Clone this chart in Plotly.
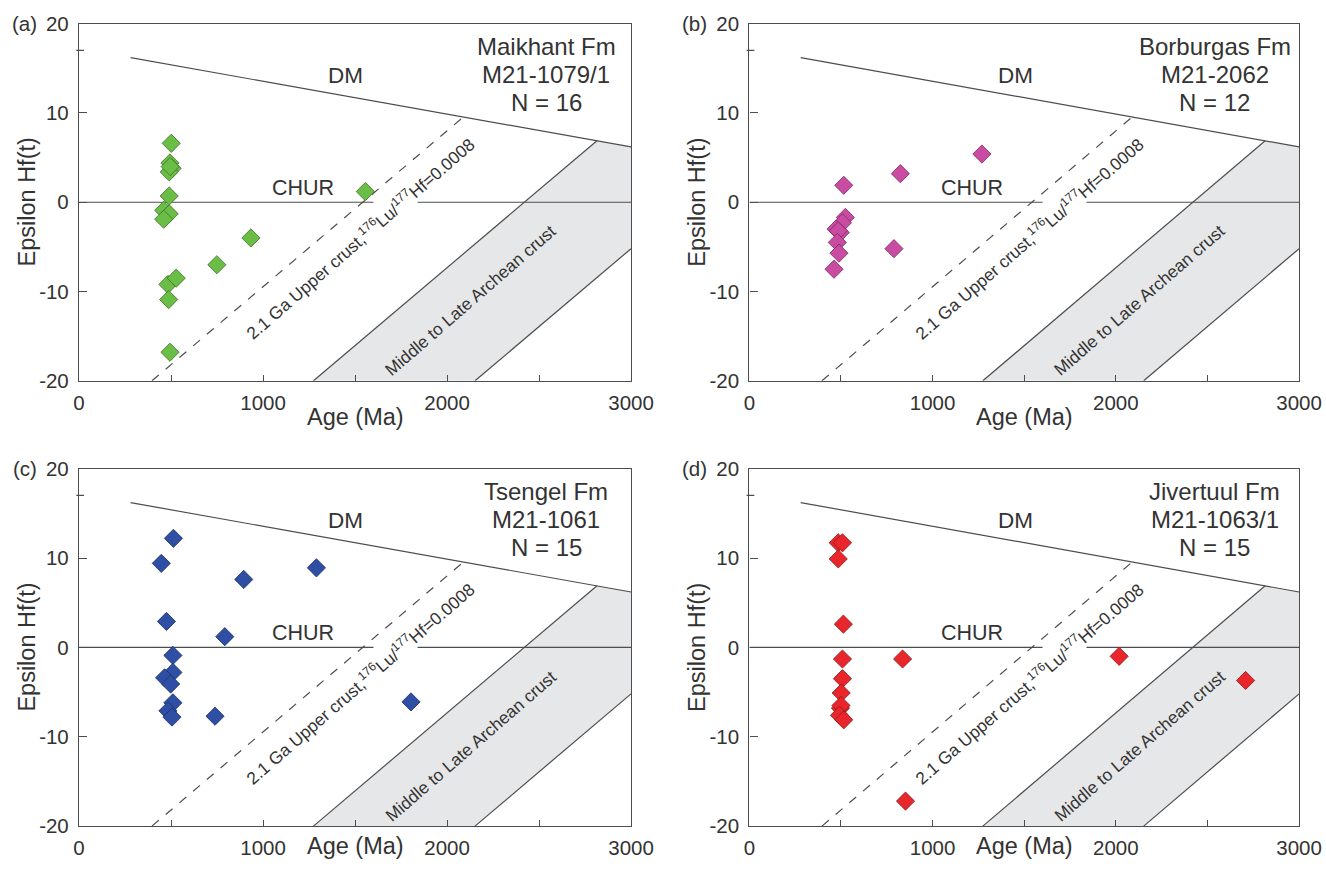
import plotly.graph_objects as go

# ---------------- data ----------------
AGE_RANGE = [0, 3000]
EPS_RANGE = [-20, 20]
X_TICKS = [0, 1000, 2000, 3000]
X_TICK_TEXT = ["0", "1000", "2000", "3000"]
Y_TICKS = [-20, -10, 0, 10, 20]
Y_TICK_TEXT = ["-20", "-10", "0", "10", "20"]

PANEL_LETTERS = ["(a)", "(b)", "(c)", "(d)"]
FORMATIONS = ["Maikhant Fm", "Borburgas Fm", "Tsengel Fm", "Jivertuul Fm"]
SAMPLES = ["M21-1079/1", "M21-2062", "M21-1061", "M21-1063/1"]
COUNTS = [16, 12, 15, 15]
COLORS = ["#6abd45", "#c94ca2", "#2f4fa5", "#e8262b"]
EDGE_COLORS = ["#3f6e2a", "#7a2c60", "#1c2f66", "#8a1a1c"]

A_AGE = [501, 494, 506, 490, 495, 490, 460, 490, 460, 483, 528, 487, 494, 749, 934, 1556]
A_EPS = [6.6, 4.4, 3.8, 3.4, 4.0, 0.7, -0.9, -1.3, -1.9, -9.2, -8.5, -10.9, -16.8, -7.0, -4.0, 1.2]

B_AGE = [1269, 824, 515, 524, 508, 473, 496, 485, 480, 489, 462, 789]
B_EPS = [5.4, 3.2, 1.9, -1.7, -2.3, -3.0, -3.4, -3.2, -4.5, -5.7, -7.5, -5.2]

C_AGE = [513, 447, 895, 1290, 475, 792, 510, 510, 465, 498, 510, 483, 505, 739, 1804]
C_EPS = [12.2, 9.4, 7.6, 8.9, 2.9, 1.2, -0.9, -2.8, -3.4, -4.1, -6.2, -7.1, -7.8, -7.7, -6.1]

D_AGE = [485, 508, 485, 513, 508, 836, 2018, 508, 501, 497, 500, 492, 515, 2708, 852]
D_EPS = [11.7, 11.7, 9.9, 2.6, -1.3, -1.3, -1.0, -3.5, -5.1, -6.8, -6.5, -7.6, -8.1, -3.7, -17.2]

PANEL_AGES = [A_AGE, B_AGE, C_AGE, D_AGE]
PANEL_EPS = [A_EPS, B_EPS, C_EPS, D_EPS]

# reference curves
DM_AGE = [280, 3000]
DM_EPS = [16.2, 6.2]
DM_TICK_EPS = 17.0
CHUR_AGE = [0, 1600, None, 1840, 3000]
CHUR_EPS = [0, 0, None, 0, 0]
UC_AGE = [396, 2089]
UC_EPS = [-20, 9.55]
ARCH_FILL_AGE = [1274, 2815, 3000, 3000, 2152]
ARCH_FILL_EPS = [-20, 6.89, 6.2, -5.2, -20]
ARCH_LEFT_AGE = [1274, 2815]
ARCH_LEFT_EPS = [-20, 6.89]
ARCH_RIGHT_AGE = [2152, 3000]
ARCH_RIGHT_EPS = [-20, -5.2]

# label anchor positions (data units)
DM_LABEL = (1450, 14.2)
CHUR_LABEL = (1215, 1.6)
UC_LABEL = (1525, -4.0)
ARCH_LABEL = (2130, -11.0)
SAMPLE_X = 2540
SAMPLE_Y = [17.4, 14.3, 11.2]

# ---------------- layout geometry (figure pixels) ----------------
W, H = 1326, 872
X_DOMS = [(74.7, 639), (760, 1322), (74.7, 639), (760, 1322)]
Y_DOMS = [(12.0, 378.8), (12.0, 378.8), (469.0, 836.2), (469.0, 836.2)]

FONT = "Liberation Sans, Arial, sans-serif"
TXT = "#333333"
LINE = "#4d4d4d"

fig = go.Figure()
annotations = []
shapes = []

for i in range(4):
    sfx = "" if i == 0 else str(i + 1)
    xr, yr = "x" + sfx, "y" + sfx
    x0p, x1p = X_DOMS[i]
    ytp, ybp = Y_DOMS[i]
    xdom = [x0p / W, x1p / W]
    ydom = [1 - ybp / H, 1 - ytp / H]

    fig.add_trace(go.Scatter(x=ARCH_FILL_AGE, y=ARCH_FILL_EPS, fill="toself",
                             fillcolor="#e6e7e8", line=dict(width=0), mode="lines",
                             xaxis=xr, yaxis=yr, showlegend=False, hoverinfo="skip"))
    for ax_, ey_, dash in [(DM_AGE, DM_EPS, "solid"), (CHUR_AGE, CHUR_EPS, "solid"),
                           (ARCH_LEFT_AGE, ARCH_LEFT_EPS, "solid"),
                           (ARCH_RIGHT_AGE, ARCH_RIGHT_EPS, "solid"),
                           (UC_AGE, UC_EPS, "dash")]:
        fig.add_trace(go.Scatter(x=ax_, y=ey_, mode="lines",
                                 line=dict(color=LINE, width=1.2, dash=dash),
                                 connectgaps=False,
                                 xaxis=xr, yaxis=yr, showlegend=False, hoverinfo="skip"))
    fig.add_trace(go.Scatter(x=PANEL_AGES[i], y=PANEL_EPS[i], mode="markers",
                             marker=dict(symbol="diamond", size=14, color=COLORS[i],
                                         line=dict(color=EDGE_COLORS[i], width=0.8)),
                             xaxis=xr, yaxis=yr, showlegend=False))

    axis_common = dict(showline=True, mirror=True, linecolor=LINE, linewidth=1.4,
                       showgrid=False, zeroline=False, ticks="inside",
                       tickcolor=LINE, tickfont=dict(family=FONT, size=20.5, color=TXT))
    fig.layout["xaxis" + sfx] = dict(axis_common, domain=xdom, range=AGE_RANGE,
                                     tickvals=X_TICKS, ticktext=X_TICK_TEXT, ticklen=6,
                                     ticklabelstandoff=3,
                                     minor=dict(dtick=500, tick0=0, ticks="inside",
                                                ticklen=6, tickcolor=LINE),
                                     anchor=yr)
    fig.layout["yaxis" + sfx] = dict(axis_common, domain=ydom, range=EPS_RANGE,
                                     tickvals=Y_TICKS, ticktext=Y_TICK_TEXT, ticklen=8,
                                     ticklabelstandoff=5, anchor=xr)

    shapes.append(dict(type="line", xref=xr + " domain", yref=yr,
                       x0=-0.005, x1=0.009, y0=DM_TICK_EPS, y1=DM_TICK_EPS,
                       line=dict(color=LINE, width=1.2)))

    annotations.append(dict(text=PANEL_LETTERS[i], xref="paper", yref="paper",
                            x=(x0p - 41) / W, y=1 - ytp / H, xanchor="right",
                            yanchor="middle", showarrow=False,
                            font=dict(family=FONT, size=20.5, color=TXT)))
    for line_txt, ly in zip([FORMATIONS[i], SAMPLES[i], f"N = {COUNTS[i]}"], SAMPLE_Y):
        annotations.append(dict(text=line_txt, xref=xr, yref=yr, x=SAMPLE_X, y=ly,
                                showarrow=False, xanchor="center", yanchor="middle",
                                font=dict(family=FONT, size=24, color=TXT)))
    annotations.append(dict(text="DM", xref=xr, yref=yr, x=DM_LABEL[0], y=DM_LABEL[1],
                            showarrow=False, font=dict(family=FONT, size=22.5, color=TXT)))
    annotations.append(dict(text="CHUR", xref=xr, yref=yr, x=CHUR_LABEL[0], y=CHUR_LABEL[1],
                            showarrow=False, font=dict(family=FONT, size=21.5, color=TXT)))
    annotations.append(dict(text="2.1 Ga Upper crust,<sup>176</sup>Lu/<sup>177</sup>Hf=0.0008",
                            xref=xr, yref=yr, x=UC_LABEL[0], y=UC_LABEL[1],
                            textangle=-41, showarrow=False,
                            font=dict(family=FONT, size=17.3, color=TXT)))
    annotations.append(dict(text="Middle to Late Archean crust",
                            xref=xr, yref=yr, x=ARCH_LABEL[0], y=ARCH_LABEL[1],
                            textangle=-41, showarrow=False,
                            font=dict(family=FONT, size=17.3, color=TXT)))
    if i < 2:
        age_title_pos = dict(y=1 - (ybp + 37) / H, yanchor="middle")
    else:
        # bottom row: keep the title just inside the page edge
        age_title_pos = dict(y=0, yanchor="bottom", yshift=0)
    annotations.append(dict(text="Age (Ma)", xref="paper", yref="paper",
                            x=(x0p + x1p) / 2 / W, xanchor="center", showarrow=False,
                            font=dict(family=FONT, size=23.5, color=TXT), **age_title_pos))
    annotations.append(dict(text="Epsilon Hf(t)", xref="paper", yref="paper",
                            x=(x0p - 53) / W, y=1 - (ytp + ybp) / 2 / H,
                            xanchor="center", yanchor="middle", textangle=-90,
                            showarrow=False, font=dict(family=FONT, size=23.5, color=TXT)))

fig.update_layout(width=W, height=H, margin=dict(l=0, r=0, t=0, b=0),
                  paper_bgcolor="white", plot_bgcolor="white",
                  annotations=annotations, shapes=shapes, showlegend=False)

fig.write_html("out.html", config={"displayModeBar": False},
               post_script="document.body.style.margin='0px';"
                           "document.documentElement.style.overflow='hidden';")
